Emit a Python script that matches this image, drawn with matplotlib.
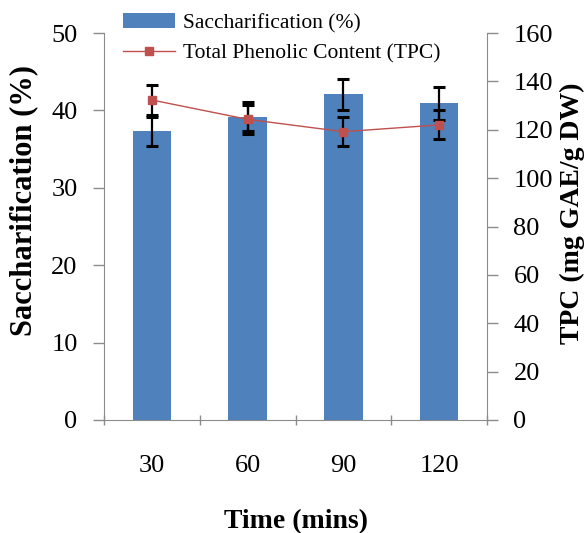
import matplotlib
matplotlib.use('Agg')
import matplotlib.pyplot as plt
import numpy as np

plt.rcParams['font.family'] = ['Liberation Serif', 'DejaVu Serif']

times = ['30', '60', '90', '120']
sacch = [37.3, 39.2, 42.1, 40.9]
sacch_err = [1.9, 1.9, 2.0, 2.1]
tpc = [132.3, 124.3, 119.2, 122.0]
tpc_err = [6.0, 6.0, 6.1, 6.0]

bar_color = '#4F81BD'
line_color = '#C0504D'
axis_color = '#8C8C8C'

fig = plt.figure(figsize=(5.84, 5.33), dpi=100)
ax = fig.add_axes([104 / 584, 1 - 420 / 533, 383 / 584, 387 / 533])
ax2 = ax.twinx()

x = np.arange(len(times))
bars = ax.bar(x, sacch, width=0.4, color=bar_color, zorder=2, label='Saccharification (%)')
ax.errorbar(x, sacch, yerr=sacch_err, fmt='none', ecolor='black', elinewidth=1.6,
            capsize=4.5, capthick=2.2, zorder=3)

ax2.errorbar(x, tpc, yerr=tpc_err, fmt='none', ecolor='black', elinewidth=1.6,
             capsize=4.5, capthick=2.2, zorder=3)
line, = ax2.plot(x, tpc, color=line_color, linewidth=1, marker='s', markersize=6,
                 zorder=4, label='Total Phenolic Content (TPC)')

ax.set_xlim(-0.5, 3.5)
ax.set_ylim(0, 50)
ax2.set_ylim(0, 160)
ax.set_yticks(np.arange(0, 51, 10))
ax2.set_yticks(np.arange(0, 161, 20))

ax.set_xticks(x)
ax.set_xticklabels(times)
ax.set_xticks(np.arange(-0.5, 3.6, 1), minor=True)
ax.tick_params(axis='x', which='major', length=0, pad=25, labelsize=19)
ax.tick_params(axis='x', which='minor', length=7, width=1, color=axis_color, direction='inout')
ax.tick_params(axis='y', length=8, width=1, color=axis_color, pad=11, labelsize=19)
ax2.tick_params(axis='y', length=8, width=1, color=axis_color, pad=11, labelsize=19)

for a in (ax, ax2):
    a.spines['top'].set_visible(False)
    for s in ('left', 'right', 'bottom'):
        a.spines[s].set_color(axis_color)
ax2.spines['left'].set_visible(False)
ax2.spines['bottom'].set_visible(False)
ax.spines['right'].set_visible(False)

ax.set_xlabel('Time (mins)', fontsize=20, fontweight='bold', labelpad=23)
ax.set_ylabel('Saccharification (%)', fontsize=22, fontweight='bold')
ax2.set_ylabel('TPC (mg GAE/g DW)', fontsize=20, fontweight='bold')
ax.yaxis.set_label_coords(-0.172, 0.568)
ax2.yaxis.set_label_coords(1.19, 0.535)

ax.set_zorder(1)
ax.patch.set_visible(False)
ax2.set_zorder(2)

fig.legend([bars, line], ['Saccharification (%)', 'Total Phenolic Content (TPC)'],
           loc='upper left', bbox_to_anchor=(123 / 584, 1 - 13 / 533), frameon=False,
           prop={'family': 'Liberation Serif', 'size': 15.5},
           handlelength=2.4, handletextpad=0.4, labelspacing=0.5,
           borderaxespad=0, borderpad=0)

fig.savefig('out.png', dpi=100)
